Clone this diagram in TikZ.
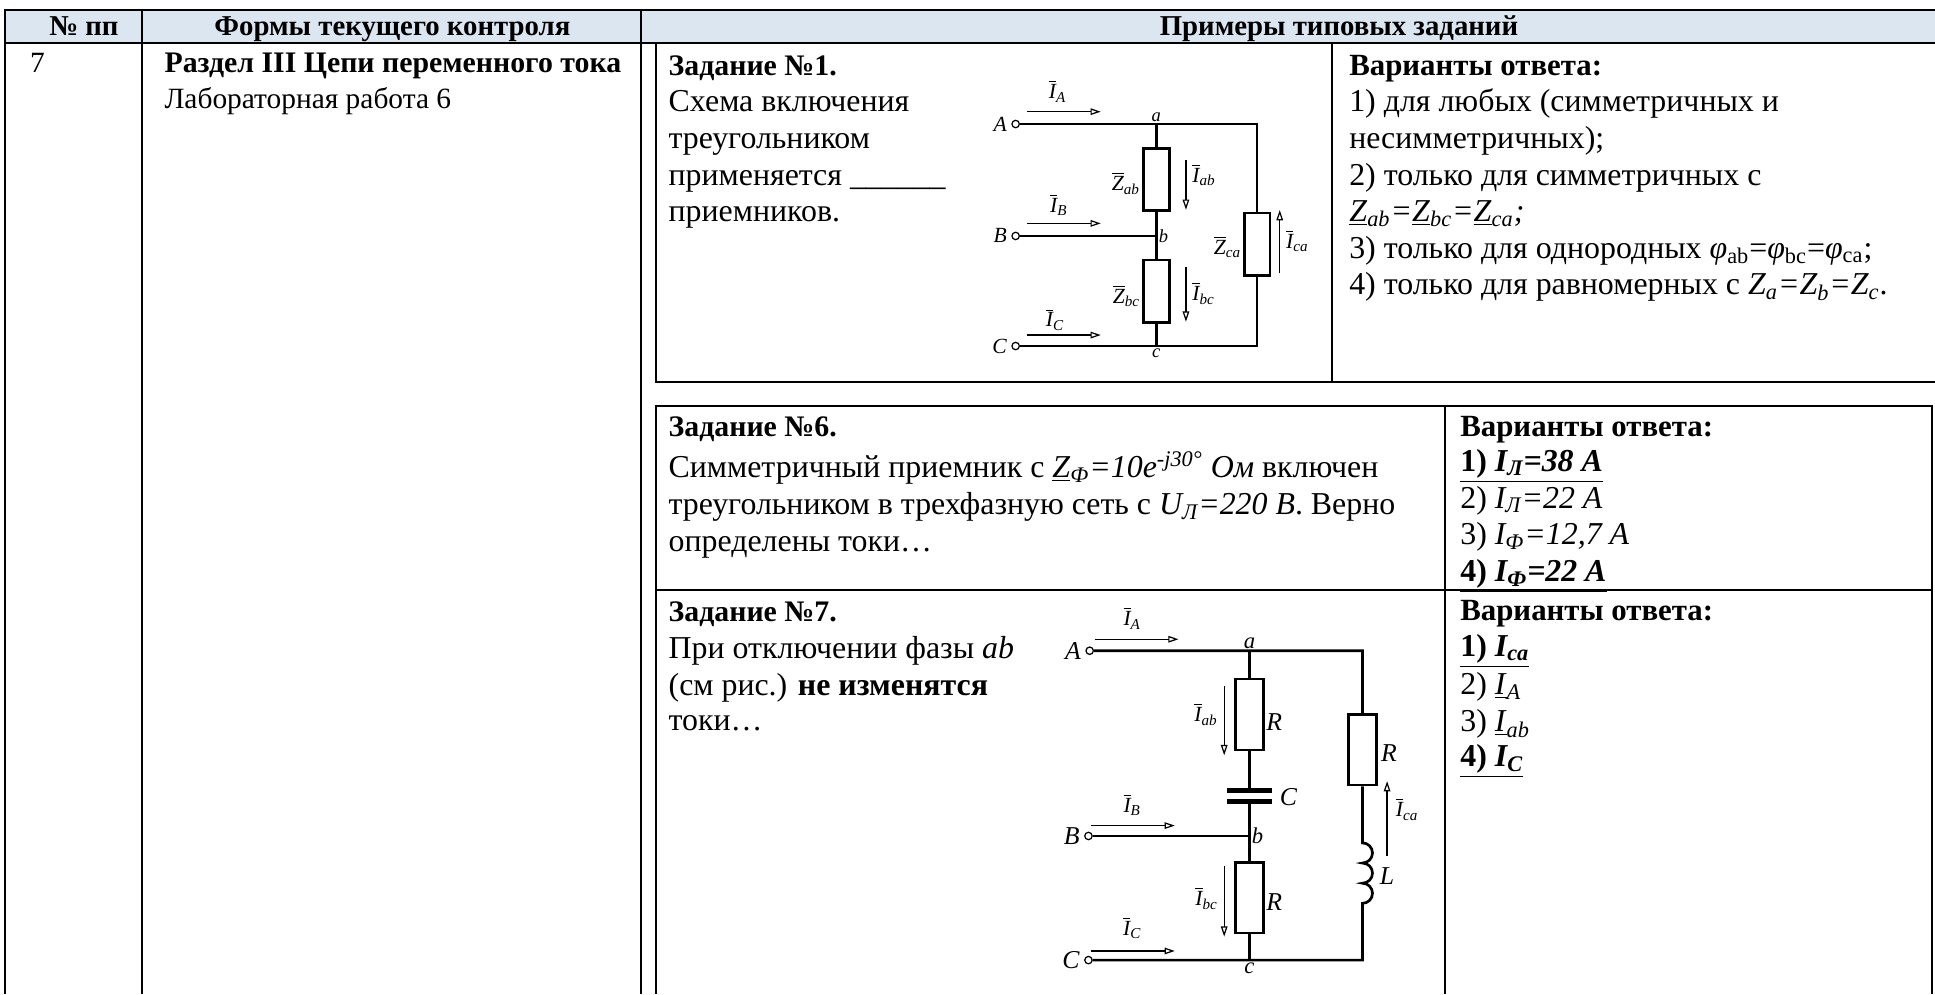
\documentclass[tikz,border=0pt]{standalone}
\usepackage{fontspec}
\setmainfont{Liberation Serif}
\usetikzlibrary{arrows.meta}
\definecolor{headblue}{HTML}{DCE6F1}
\newcommand{\curr}[1]{$\overline{\mbox{\itshape I}}$\textsubscript{\itshape #1}}
\newcommand{\zbar}[1]{$\overline{\mbox{\itshape Z}}$\textsubscript{\itshape #1}}
\newcommand{\zul}[1]{\underline{\textit{Z}}\textsubscript{\textit{#1}}}
\tikzset{
  tline/.style={line width=1.2pt},
  wire/.style={line width=1.3pt},
  res1/.style={draw, line width=1.3pt, minimum width=12.6pt, minimum height=30.4pt, inner sep=0pt},
  res2/.style={draw, line width=1.3pt, minimum width=13.8pt, minimum height=34.4pt, inner sep=0pt},
  term/.style={draw, circle, line width=0.6pt, minimum size=3.6pt, inner sep=0pt},
  cur/.style={line width=0.6pt, -{Triangle[open, length=5pt, width=3.2pt]}},
  plate/.style={line width=2.2pt},
  txt/.style={anchor=base west, inner sep=0pt, font=\fontsize{15.5}{17.8}\selectfont},
  ltxt/.style={anchor=base west, inner sep=0pt, font=\fontsize{14.3}{17.8}\selectfont},
  ttl/.style={anchor=base west, inner sep=0pt, font=\fontsize{14.5}{17.8}\selectfont\bfseries},
  vtl/.style={anchor=base west, inner sep=0pt, font=\fontsize{15}{17.8}\selectfont\bfseries},
  hd/.style={anchor=base, inner sep=0pt, font=\fontsize{14}{17.8}\selectfont\bfseries},
  clab/.style={inner sep=0.5pt, font=\fontsize{10.5}{10.5}\selectfont\itshape},
  clabs/.style={inner sep=1pt, font=\fontsize{9}{9}\selectfont\itshape},
  clabb/.style={inner sep=0.5pt, font=\fontsize{12.5}{12.5}\selectfont\itshape},
  tlab/.style={inner sep=2pt, anchor=east},
}
\begin{document}
\begin{tikzpicture}[x=0.6pt,y=-0.6pt]
  \useasboundingbox (0,0) rectangle (1568,805.5);
  % table
  \fill[headblue] (4,8) rectangle (1568,35);
  \draw[tline] (1568,8) -- (4,8) -- (4,805.5);
  \draw[tline] (4,35) -- (1568,35);
  \draw[tline] (115,8) -- (115,805.5);
  \draw[tline] (519.5,8) -- (519.5,805.5);
  \draw[tline] (531.6,35) -- (531.6,309.6) -- (1568,309.6);
  \draw[tline] (1079.5,35) -- (1079.5,309.6);
  \draw[tline] (531.6,805.5) -- (531.6,329) -- (1565.4,329) -- (1565.4,805.5);
  \draw[tline] (531.6,478) -- (1565.4,478);
  \draw[tline] (1171,329) -- (1171,805.5);
  \node[hd] (hnum) at (68,29) {№ пп};
  \node[hd] (hform) at (318,29) {Формы текущего контроля};
  \node[hd] (hex) at (1085,29) {Примеры типовых заданий};
  \node[ltxt] (num) at (24,58.5) {7};
  \node[ttl] (sec) at (133,58.5) {Раздел III Цепи переменного тока};
  \node[ltxt] (lab) at (133,88.2) {Лабораторная работа 6};
  % task 1
  \node[ttl] (z1a) at (541.5,60.8) {Задание №1.};
  \node[txt] (z1b) at (541.5,90.5) {Схема включения};
  \node[txt] (z1c) at (541.5,120.2) {треугольником};
  \node[txt] (z1d) at (541.5,150.5) {применяется \_\_\_\_\_\_};
  \node[txt] (z1e) at (541.5,179.6) {приемников.};
  \node[vtl] (v1a) at (1093,60.8) {Варианты ответа:};
  \node[txt] (v1b) at (1093,90.5) {1) для любых (симметричных и};
  \node[txt] (v1c) at (1093,120.2) {несимметричных);};
  \node[txt] (v1d) at (1093,150.5) {2) только для симметричных с};
  \node[txt] (v1e) at (1093,179.6) {\zul{ab}\textit{=}\zul{bc}\textit{=}\zul{ca}\textit{;}};
  \node[txt] (v1f) at (1093,209.3) {3) только для однородных \textit{φ}\textsubscript{ab}=\textit{φ}\textsubscript{bc}=\textit{φ}\textsubscript{ca};};
  \node[txt] (v1g) at (1093,239) {4) только для равномерных с \textit{Z\textsubscript{a}=Z\textsubscript{b}=Z\textsubscript{c}}.};
  % circuit 1
  \node[term] (tA1) at (823,100.5) {};
  \node[term] (tB1) at (823,191.2) {};
  \node[term] (tC1) at (823,280.4) {};
  \node[clab, tlab] (lA1) at (tA1.west) {A};
  \node[clab, tlab] (lB1) at (tB1.west) {B};
  \node[clab, tlab] (lC1) at (tC1.west) {C};
  \coordinate (a1) at (937,100.5);
  \coordinate (b1) at (937,191.2);
  \coordinate (c1) at (937,280.4);
  \coordinate (ar1) at (1018.7,100.5);
  \coordinate (cr1) at (1018.7,280.4);
  \node[res1] (zab) at (937,145.4) {};
  \node[res1] (zbc) at (937,236) {};
  \node[res1] (zca) at (1018.7,197.9) {};
  \draw[wire] (tA1) -- (ar1) -- (zca) -- (cr1) -- (tC1);
  \draw[wire] (tB1) -- (b1);
  \draw[wire] (a1) -- (zab) -- (b1) -- (zbc) -- (c1);
  \node[clabs, anchor=south] (la1) at (a1) {a};
  \node[clabs, anchor=west] (lb1) at (b1) {b};
  \node[clabs, anchor=north] (lc1) at (c1) {c};
  \node[clab, anchor=east] (lzab) at (925,148.6) {\zbar{ab}};
  \node[clab, anchor=east] (lzbc) at (925,240) {\zbar{bc}};
  \node[clab, anchor=east] (lzca) at (1007,200) {\zbar{ca}};
  \coordinate (iA1s) at (832,90.5);
  \coordinate (iA1e) at (892,90.5);
  \coordinate (iB1s) at (832,181);
  \coordinate (iB1e) at (892,181);
  \coordinate (iC1s) at (832,271.5);
  \coordinate (iC1e) at (892,271.5);
  \coordinate (iab1s) at (961,130);
  \coordinate (iab1e) at (961,170);
  \coordinate (ibc1s) at (961,216);
  \coordinate (ibc1e) at (961,260.7);
  \coordinate (ica1s) at (1037,221.5);
  \coordinate (ica1e) at (1037,170.2);
  \draw[cur] (iA1s) -- (iA1e);
  \draw[cur] (iB1s) -- (iB1e);
  \draw[cur] (iC1s) -- (iC1e);
  \draw[cur] (iab1s) -- (iab1e);
  \draw[cur] (ibc1s) -- (ibc1e);
  \draw[cur] (ica1s) -- (ica1e);
  \node[clab] (liA1) at (857,74) {\curr{A}};
  \node[clab] (liB1) at (858,166) {\curr{B}};
  \node[clab] (liC1) at (855,259) {\curr{C}};
  \node[clab, anchor=west] (liab1) at (965,142) {\curr{ab}};
  \node[clab, anchor=west] (libc1) at (965,237.7) {\curr{bc}};
  \node[clab, anchor=west] (lica1) at (1041,195) {\curr{ca}};
  % task 6
  \node[ttl] (z6a) at (541.5,354) {Задание №6.};
  \node[txt] (z6b) at (541.5,387) {Симметричный приемник с \underline{\textit{Z}}\textsubscript{\textit{Ф}}\textit{=10e\textsuperscript{-j30°}} \textit{Ом} включен};
  \node[txt] (z6c) at (541.5,417) {треугольником в трехфазную сеть с \textit{U\textsubscript{Л}=220 В}. Верно};
  \node[txt] (z6d) at (541.5,447) {определены токи…};
  \node[vtl] (v6a) at (1183,354) {Варианты ответа:};
  \node[txt] (v6b) at (1183,382) {\textbf{\underline{1) \textit{I\textsubscript{Л}=38 А}}}};
  \node[txt] (v6c) at (1183,412) {2) \textit{I\textsubscript{Л}=22 А}};
  \node[txt] (v6d) at (1183,441.6) {3) \textit{I\textsubscript{Ф}=12,7 А}};
  \node[txt] (v6e) at (1183,471.4) {\textbf{\underline{4) \textit{I\textsubscript{Ф}=22 А}}}};
  % task 7
  \node[ttl] (z7a) at (541.5,503.8) {Задание №7.};
  \node[txt] (z7b) at (541.5,533.5) {При отключении фазы \textit{ab}};
  \node[txt] (z7c) at (541.5,563.2) {(см рис.) \textbf{не изменятся}};
  \node[txt] (z7d) at (541.5,591.6) {токи…};
  \node[vtl] (v7a) at (1183,502.4) {Варианты ответа:};
  \node[txt] (v7b) at (1183,532) {\textbf{\underline{1) \textit{I\textsubscript{ca}}}}};
  \node[txt] (v7c) at (1183,563) {2) \underline{\textit{I}}\textsubscript{\textit{A}}};
  \node[txt] (v7d) at (1183,593) {3) \underline{\textit{I}}\textsubscript{\textit{ab}}};
  \node[txt] (v7e) at (1183,621.3) {\textbf{\underline{4) \textit{I\textsubscript{C}}}}};
  % circuit 2
  \node[term] (tA2) at (883,527.3) {};
  \node[term] (tB2) at (882,677.4) {};
  \node[term] (tC2) at (882,778) {};
  \node[clabb, tlab] (lA2) at (tA2.west) {A};
  \node[clabb, tlab] (lB2) at (tB2.west) {B};
  \node[clabb, tlab] (lC2) at (tC2.west) {C};
  \coordinate (a2) at (1012.5,527.3);
  \coordinate (b2) at (1012.5,677.4);
  \coordinate (c2) at (1012.5,778);
  \coordinate (ar2) at (1104,527.3);
  \coordinate (cr2) at (1104,778);
  \coordinate (cp1) at (1012.5,640.7);
  \coordinate (cp2) at (1012.5,649.6);
  \coordinate (lt) at (1104,683);
  \node[res2] (rab) at (1012.5,579) {};
  \node[res2] (rbc) at (1012.5,727.4) {};
  \node[res2] (rca) at (1104,607.5) {};
  \draw[wire] (tA2) -- (ar2) -- (rca) -- (lt)
    arc[start angle=90, end angle=-90, radius=4.9pt]
    arc[start angle=90, end angle=-90, radius=4.9pt]
    arc[start angle=90, end angle=-90, radius=4.9pt] -- (cr2) -- (tC2);
  \draw[wire] (tB2) -- (b2);
  \draw[wire] (a2) -- (rab) -- (cp1);
  \draw[wire] (cp2) -- (b2) -- (rbc) -- (c2);
  \draw[plate] ([xshift=-11pt]cp1) -- ([xshift=11pt]cp1);
  \draw[plate] ([xshift=-11pt]cp2) -- ([xshift=11pt]cp2);
  \node[clabs, anchor=south, font=\fontsize{11}{11}\selectfont\itshape] (la2) at (a2) {a};
  \node[clabs, anchor=west, font=\fontsize{11}{11}\selectfont\itshape] (lb2) at (b2) {b};
  \node[clabs, anchor=north, font=\fontsize{11}{11}\selectfont\itshape] (lc2) at (c2) {c};
  \node[clabb, anchor=west] (lr1) at (1025,584.8) {R};
  \node[clabb, anchor=west] (lcap) at (1036,646) {C};
  \node[clabb, anchor=west] (lr3) at (1025,730.7) {R};
  \node[clabb, anchor=west] (lr2) at (1118,610) {R};
  \node[clabb, anchor=west] (lind) at (1117,710) {L};
  \coordinate (iA2s) at (887,518);
  \coordinate (iA2e) at (955,518);
  \coordinate (iB2s) at (884,669);
  \coordinate (iB2e) at (952,669);
  \coordinate (iC2s) at (884,770.6);
  \coordinate (iC2e) at (952,770.6);
  \coordinate (iab2s) at (992,556);
  \coordinate (iab2e) at (992,612);
  \coordinate (ibc2s) at (992,702);
  \coordinate (ibc2e) at (992,759);
  \coordinate (ica2s) at (1124,694);
  \coordinate (ica2e) at (1124,633);
  \draw[cur] (iA2s) -- (iA2e);
  \draw[cur] (iB2s) -- (iB2e);
  \draw[cur] (iC2s) -- (iC2e);
  \draw[cur] (iab2s) -- (iab2e);
  \draw[cur] (ibc2s) -- (ibc2e);
  \draw[cur] (ica2s) -- (ica2e);
  \node[clab] (liA2) at (917.5,501) {\curr{A}};
  \node[clab] (liB2) at (917.5,652) {\curr{B}};
  \node[clab] (liC2) at (917.5,752) {\curr{C}};
  \node[clab, anchor=east] (liab2) at (988,579) {\curr{ab}};
  \node[clab, anchor=east] (libc2) at (988,728) {\curr{bc}};
  \node[clab, anchor=west] (lica2) at (1130,656) {\curr{ca}};
\end{tikzpicture}
\end{document}
